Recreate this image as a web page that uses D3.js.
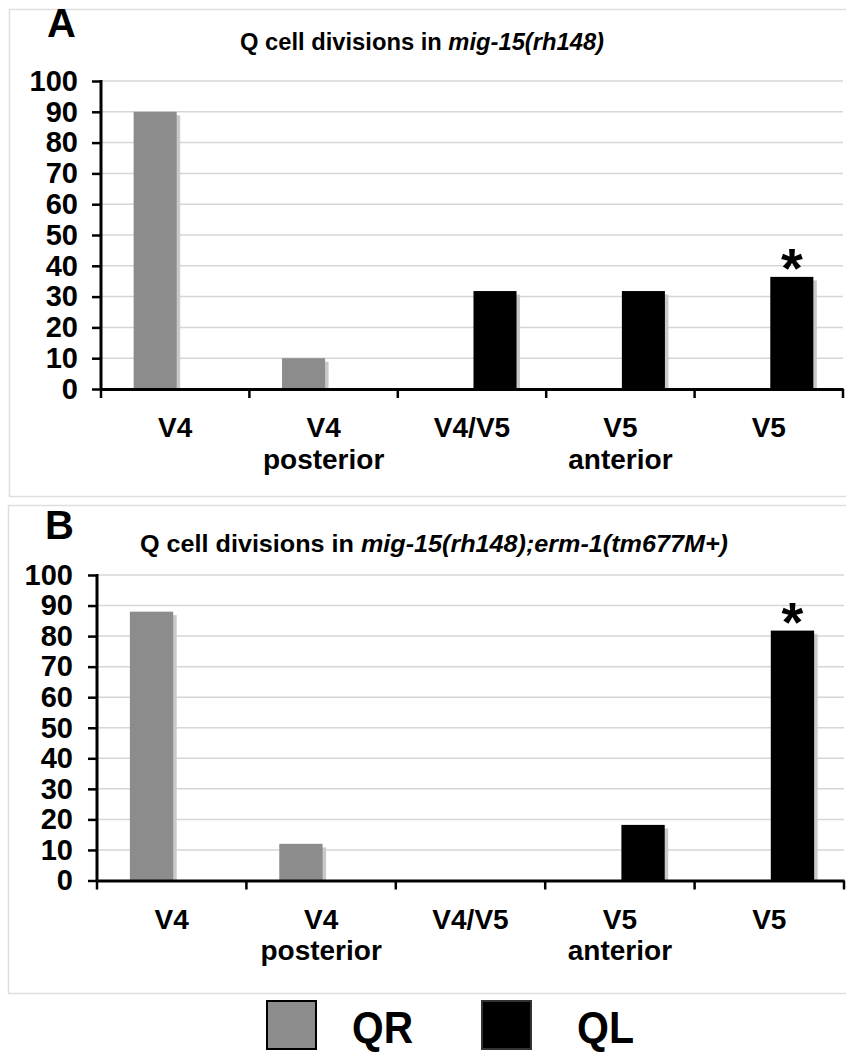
<!DOCTYPE html>
<html>
<head>
<meta charset="utf-8">
<script src="https://cdn.jsdelivr.net/npm/d3@7"></script>
<style>
  html, body { margin: 0; padding: 0; background: #fff; }
  svg { display: block; }
  text { font-family: "Liberation Sans", Arial, sans-serif; font-weight: bold; fill: #000; }
</style>
</head>
<body>
<script>
// ---- data ----
const categories = ["V4", "V4 posterior", "V4/V5", "V5 anterior", "V5"];
const categoryLines = [["V4"], ["V4", "posterior"], ["V4/V5"], ["V5", "anterior"], ["V5"]];
const seriesNames = ["QR", "QL"];
const seriesColors = ["#8c8c8c", "#000000"];

// percentage of Q cell divisions, panel A: mig-15(rh148)
const qrA = [90, 10, 0, 0, 0];
const qlA = [0, 0, 31.8, 31.8, 36.4];
// panel B: mig-15(rh148);erm-1(tm677M+)
const qrB = [88, 12, 0, 0, 0];
const qlB = [0, 0, 0, 18.2, 81.8];

const yTicks = [0, 10, 20, 30, 40, 50, 60, 70, 80, 90, 100];
const starredA = "V5";   // QL bar marked with an asterisk
const starredB = "V5";

const W = 846, H = 1053;
const svg = d3.select("body").append("svg")
  .attr("width", W).attr("height", H)
  .attr("viewBox", `0 0 ${W} ${H}`);
svg.append("rect").attr("width", W).attr("height", H).attr("fill", "#fff");

function panel(cfg) {
  const g = svg.append("g");

  // light frame around the panel
  g.append("rect")
    .attr("x", cfg.frame[0]).attr("y", cfg.frame[1])
    .attr("width", cfg.frame[2]).attr("height", cfg.frame[3])
    .attr("fill", "none").attr("stroke", "#dedede").attr("stroke-width", 1.5);

  // panel letter
  g.append("text")
    .attr("x", cfg.letterPos[0]).attr("y", cfg.letterPos[1])
    .attr("font-size", 40)
    .text(cfg.letter);

  // title with italic genotype
  const t = g.append("text")
    .attr("x", cfg.titlePos[0]).attr("y", cfg.titlePos[1])
    .attr("font-size", cfg.titleSize)
    .attr("textLength", cfg.titleLen)
    .attr("lengthAdjust", "spacingAndGlyphs");
  t.append("tspan").text("Q cell divisions in ");
  t.append("tspan").attr("font-style", "italic").text(cfg.genotype);

  const x = d3.scaleBand().domain(categories).range([cfg.x0, cfg.x1]).padding(0);
  const bw = x.bandwidth();
  const xs = d3.scaleBand().domain(seriesNames)
    .range([bw * 0.22, bw * 0.22 + bw * 0.58]).padding(0);
  const y = d3.scaleLinear().domain([0, 100]).range([cfg.y0, cfg.y1]);

  // gridlines
  g.append("g").selectAll("line")
    .data(yTicks.filter(v => v > 0))
    .join("line")
    .attr("x1", cfg.x0).attr("x2", cfg.x1)
    .attr("y1", d => y(d)).attr("y2", d => y(d))
    .attr("stroke", "#d6d6d6").attr("stroke-width", 1.5);

  // bars (zero values are not drawn)
  const rows = [];
  categories.forEach((c, i) => {
    seriesNames.forEach((s, j) => {
      const v = (j === 0 ? cfg.qr : cfg.ql)[i];
      if (v > 0) rows.push({ c, s, v, color: seriesColors[j] });
    });
  });
  const sh = 3.5;
  g.append("g").selectAll("rect")
    .data(rows).join("rect")
    .attr("x", d => x(d.c) + xs(d.s) + sh)
    .attr("y", d => y(d.v) + sh)
    .attr("width", xs.bandwidth())
    .attr("height", d => y(0) - y(d.v) - sh)
    .attr("fill", "#c9c9c9");
  g.append("g").selectAll("rect")
    .data(rows).join("rect")
    .attr("x", d => x(d.c) + xs(d.s))
    .attr("y", d => y(d.v))
    .attr("width", xs.bandwidth())
    .attr("height", d => y(0) - y(d.v))
    .attr("fill", d => d.color);

  // asterisk over the marked QL bar
  const starRow = rows.find(r => r.c === cfg.starred && r.s === "QL");
  g.append("text")
    .attr("x", x(starRow.c) + xs("QL") + xs.bandwidth() / 2)
    .attr("y", y(starRow.v) + 10)
    .attr("text-anchor", "middle")
    .attr("font-size", 56)
    .text("*");

  // y axis
  const ya = g.append("g")
    .attr("transform", `translate(${cfg.x0},0)`)
    .call(d3.axisLeft(y).tickValues(yTicks).tickSize(9).tickSizeOuter(0).tickPadding(cfg.tickPad));
  ya.select(".domain").remove();
  ya.selectAll(".tick line").attr("stroke", "#000").attr("stroke-width", 2.5);
  ya.selectAll(".tick text")
    .attr("font-size", 29).attr("font-family", null).attr("font-weight", "bold")
    .attr("fill", "#000");
  g.append("line")
    .attr("x1", cfg.x0).attr("x2", cfg.x0)
    .attr("y1", y(100) - 1).attr("y2", y(0))
    .attr("stroke", "#000").attr("stroke-width", 3);

  // x axis: baseline, boundary ticks and two-line category labels
  const xa = g.append("g")
    .attr("transform", `translate(0,${cfg.y0})`)
    .call(d3.axisBottom(x).tickSize(0).tickSizeOuter(0).tickFormat(""));
  xa.select(".domain").attr("stroke", "#000").attr("stroke-width", 3);
  const bounds = categories.map(c => x(c)).concat([cfg.x1]);
  xa.selectAll("line.bound")
    .data(bounds).join("line").attr("class", "bound")
    .attr("x1", d => d).attr("x2", d => d)
    .attr("y1", 0).attr("y2", 9)
    .attr("stroke", "#000").attr("stroke-width", 2.5);
  xa.selectAll(".tick").each(function (c, i) {
    const tx = d3.select(this).append("text")
      .attr("text-anchor", "middle")
      .attr("font-size", 28)
      .attr("font-family", null)
      .attr("fill", "#000");
    categoryLines[i].forEach((line, k) => {
      tx.append("tspan").attr("x", 0).attr("y", 48 + k * 31.5).text(line);
    });
  });
}

panel({
  letter: "A", letterPos: [47, 37],
  frame: [9.5, 9.5, 846, 487],
  titlePos: [240, 50], titleSize: 23.5, titleLen: 364,
  genotype: "mig-15(rh148)",
  x0: 101, x1: 843, y0: 389, y1: 81, tickPad: 14,
  qr: qrA, ql: qlA, starred: starredA
});

panel({
  letter: "B", letterPos: [45, 539],
  frame: [8.5, 505.5, 846, 488],
  titlePos: [140, 552], titleSize: 24.5, titleLen: 588,
  genotype: "mig-15(rh148);erm-1(tm677M+)",
  x0: 97, x1: 844, y0: 880.5, y1: 575, tickPad: 15,
  qr: qrB, ql: qlB, starred: starredB
});

// legend
const legend = svg.append("g");
const legendPos = [[267, 352], [482, 577]];
const legendLen = [61, 57];
seriesNames.forEach((s, i) => {
  legend.append("rect")
    .attr("x", legendPos[i][0]).attr("y", 1001)
    .attr("width", 49).attr("height", 48)
    .attr("fill", seriesColors[i])
    .attr("stroke", i === 0 ? "#000" : "#333").attr("stroke-width", 2);
  legend.append("text")
    .attr("x", legendPos[i][1]).attr("y", 1043)
    .attr("font-size", 44)
    .attr("textLength", legendLen[i])
    .attr("lengthAdjust", "spacingAndGlyphs")
    .text(s);
});
</script>
</body>
</html>
